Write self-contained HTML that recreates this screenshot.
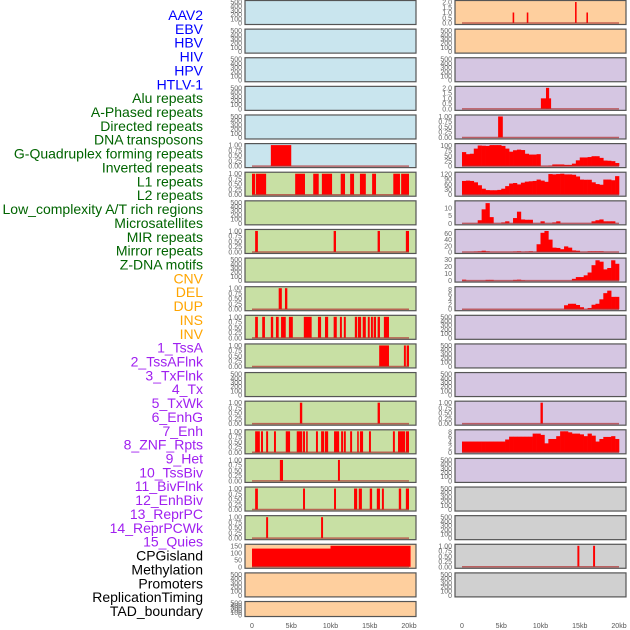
<!DOCTYPE html>
<html><head><meta charset="utf-8">
<style>
html,body{margin:0;padding:0;background:#fff;width:630px;height:630px;overflow:hidden}
svg{display:block}
</style></head>
<body>
<svg id="chart" width="630" height="630" viewBox="0 0 630 630" xmlns="http://www.w3.org/2000/svg" font-family="Liberation Sans, sans-serif"></svg>
<script>
const labels = ["AAV2","EBV","HBV","HIV","HPV","HTLV-1","Alu repeats","A-Phased repeats","Directed repeats","DNA transposons","G-Quadruplex forming repeats","Inverted repeats","L1 repeats","L2 repeats","Low_complexity A/T rich regions","Microsatellites","MIR repeats","Mirror repeats","Z-DNA motifs","CNV","DEL","DUP","INS","INV","1_TssA","2_TssAFlnk","3_TxFlnk","4_Tx","5_TxWk","6_EnhG","7_Enh","8_ZNF_Rpts","9_Het","10_TssBiv","11_BivFlnk","12_EnhBiv","13_ReprPC","14_ReprPCWk","15_Quies","CPGisland","Methylation","Promoters","ReplicationTiming","TAD_boundary"];
const labelGroups = [6,13,5,15,5];
const groupTextColors = ["#0000ff","#006400","#ffa500","#a020f0","#000000"];
const groupFillColors = ["#c9e5ee","#c8e0a4","#fecf9e","#d5c6e2","#d0d0d0"];
const xTicks = [0,5,10,15,20];
const xTickLabels = ["0","5kb","10kb","15kb","20kb"];

const ticksEmpty = [0,100,200,300,400,500];
const ticks01 = [0,0.25,0.5,0.75,1];
const ticks02 = [0,0.5,1,1.5,2];

const htlvBars = [[2.4,5.0,1]];
const aluBars = [[0,0.4,1],[0.5,1.8,1],[5.5,6.75,1],[7.8,8.5,1],[8.9,10.2,1],[11.3,11.85,1],[12.5,13,1],[13.75,14.5,1],[15.3,15.8,1],[18,18.85,1],[19,20,1]];
const directedBars = [[0.4,0.75,1],[10.4,10.7,1],[16,16.3,1],[19.6,20,1]];
const gquadBars = [[3.4,3.8,1],[4.2,4.5,1]];
const invertedBars = [[0.4,0.75,1],[1.3,1.65,1],[2.4,2.7,1],[3.05,3.4,1],[3.7,4.3,1],[4.7,5.2,1],[6.6,7.6,1],[8.4,8.8,1],[9.3,9.7,1],[10.4,10.8,1],[11.2,11.45,1],[11.7,11.95,1],[13.1,13.4,1],[13.5,13.9,1],[14.1,14.5,1],[14.75,15,1],[15.15,15.4,1],[15.5,15.8,1],[16,16.3,1],[16.8,17.45,1]];
const l1Bars = [[16.2,17.45,1],[19.35,19.6,1],[19.7,20,1]];
const lowComplexBars = [[6.1,6.4,1],[16,16.3,1]];
const microBars = [[0.4,1.0,1],[1.15,1.4,1],[1.8,2.05,1],[2.8,3.05,1],[4.3,4.85,1],[5.7,6.4,1],[6.5,6.75,1],[6.9,7.1,1],[8.15,8.4,1],[8.8,9.2,1],[9.3,9.7,1],[10.45,11.1,1],[11.35,11.6,1],[11.7,11.95,1],[12.5,12.75,1],[13.4,13.6,1],[13.75,14.15,1],[14.9,15.15,1],[17.95,18.2,1],[18.6,19.5,1],[19.6,20,1]];
const mirBars = [[3.55,3.95,1],[10.95,11.2,1]];
const mirrorBars = [[0.4,0.75,1],[6.5,6.75,1],[10.45,10.7,1],[13,13.4,1],[13.6,14,1],[15,15.3,1],[15.9,16.3,1],[16.55,16.8,1],[18.7,19,1],[19.6,20,1]];
const zdnaBars = [[1.8,2.05,1],[8.8,9.05,1]];
const cnvBars = [[0,10,130],[10,20.2,150]];
const insBars = [[6.45,6.65,1],[8.25,8.45,1],[14.4,14.6,2],[15.85,16.05,1]];
const tssAFlnkBars = [[10.05,11.35,1],[10.7,11.1,2]];
const txFlnkBars = [[4.6,5.2,1]];
const hetBars = [[10,10.3,1]];
const promoterBars = [[14.7,14.95,1],[16.7,16.95,1]];

const txBins = [68,58,60,85,100,99,98,104,104,103,98,85,70,77,80,78,60,56,56,58,0,0,2,8,8,8,6,6,12,28,42,42,44,48,48,40,27,26,24,15];
const txWkBins = [80,82,80,72,55,35,27,26,26,28,35,50,65,68,60,70,76,78,80,88,82,75,120,118,120,122,118,118,116,106,88,87,87,72,62,58,88,88,84,108];
const enhGBins = [0,0,0,0,2,9,13,4,0,0,0.6,1.3,0,3.4,7.5,2.5,2.3,2.3,0,0,1.3,0,0,0.6,1.3,0,0,0,0,0,0,0,0,1.3,2,2.5,1.3,1.3,1.3,0];
const enhBins = [0,0,0,1,2,4,2,0,0,0,0,0,0,1,2,0,1,2,0,25,62,68,40,14,13,9,18,14,5,4,0,0,2,2,2,2,0,0,0,0];
const znfBins = [1.3,0,0,0,0,0,1,1,0,0,0,0,0,1,1.3,0.5,0,0,0,0,0,0,0,0,0,0,0,0,2.5,5,5,7.5,11.5,22,29,27,16,18,29,24];
const tssBivBins = [0,0,0,0,0,0,0,0,0,0,0,0,0,0,0,0,0,0,0,0,0,0,0,0,0,0,1.6,2.2,2.2,1.7,0.8,0,0.5,1.8,2.2,4,6.5,7.5,5,5];
const reprPCWkBins = [4.2,4.2,4.2,4.2,4.2,4.2,4.2,4.2,4.2,4.2,4.2,5,6.1,6.1,6.1,6.1,6.1,6.1,7.3,7.3,6.8,3.5,5.2,5.2,6.3,8.2,8.2,7.8,7.3,7.3,7,6.3,7.3,6.5,4.2,5.2,6,6,6.3,5.2];

const E = {kind:"empty", ticks:ticksEmpty, tl:["0","100","200","300","400","500"], max:500};
const B = (d)=>({kind:"bars", data:d, ticks:ticks01, tl:["0.00","0.25","0.50","0.75","1.00"], max:1});
const tracks = [
 E,E,E,E,E,B(htlvBars),
 B(aluBars),E,B(directedBars),E,B(gquadBars),B(invertedBars),B(l1Bars),E,B(lowComplexBars),B(microBars),B(mirBars),B(mirrorBars),B(zdnaBars),
 {kind:"bars", data:cnvBars, ticks:[0,50,100,150], tl:["0","50","100","150"], max:150},E,E,
 {kind:"bars", data:insBars, ticks:ticks02, tl:["0.0","0.5","1.0","1.5","2.0"], max:2},E,
 E,{kind:"bars", data:tssAFlnkBars, ticks:ticks02, tl:["0.0","0.5","1.0","1.5","2.0"], max:2},B(txFlnkBars),
 {kind:"hist", data:txBins, ticks:[0,25,50,75,100], tl:["0","25","50","75","100"], max:102},
 {kind:"hist", data:txWkBins, ticks:[0,30,60,90,120], tl:["0","30","60","90","120"], max:122},
 {kind:"hist", data:enhGBins, ticks:[0,5,10], tl:["0","5","10"], max:13.5},
 {kind:"hist", data:enhBins, ticks:[0,20,40,60], tl:["0","20","40","60"], max:68},
 {kind:"hist", data:znfBins, ticks:[0,10,20,30], tl:["0","10","20","30"], max:30},
 {kind:"hist", data:tssBivBins, ticks:[0,2,4,6,8], tl:["0","2","4","6","8"], max:8.5},
 E,E,E,B(hetBars),
 {kind:"hist", data:reprPCWkBins, ticks:[0,2,4,6,8], tl:["0","2","4","6","8"], max:8.2},
 E,E,E,B(promoterBars),E
];

const svg = document.getElementById('chart');
const NS = "http://www.w3.org/2000/svg";
function mk(tag, attrs, parent){const e=document.createElementNS(NS,tag);for(const k in attrs)e.setAttribute(k,attrs[k]);(parent||svg).appendChild(e);return e;}

const groupOf = [];
labelGroups.forEach((n,g)=>{for(let i=0;i<n;i++)groupOf.push(g);});
labels.forEach((t,i)=>{
  const el = mk('text',{x:203,y:15+i*13.86+5,'text-anchor':'end','font-size':'14',fill:groupTextColors[groupOf[i]]});
  el.textContent = t;
  
  
});

const pitch = 28.62;
tracks.forEach((tr,i)=>{
  const col = Math.floor(i/22), row = i%22;
  const x0 = col ? 455 : 245, w = 171;
  const y0 = row*pitch + 0.5, h = row===21 ? 15 : 24;
  const g = mk('g',{});
  
  
  const xs = kb => x0 + 7 + kb*7.85;
  const yb = y0 + h - 1.5, yt = y0 + 1.5;
  const ys = v => yb - Math.min(v,tr.max)/tr.max*(yb-yt);
  mk('rect',{x:x0,y:y0,width:w,height:h,fill:groupFillColors[groupOf[i]]},g);
  if(tr.kind==="bars"){
    tr.data.forEach(d=>{
      const r = mk('rect',{x:xs(d[0]),y:ys(d[2]),width:Math.max(1.5,xs(d[1])-xs(d[0])),height:yb-ys(d[2]),fill:'#ff0000'},g);
      
      
    });
  } else if(tr.kind==="hist"){
    tr.data.forEach((v,k)=>{
      if(v<=0) return;
      const r = mk('rect',{x:xs(k*0.5),y:ys(v),width:xs(0.5)-xs(0)+0.3,height:yb-ys(v),fill:'#ff0000'},g);
      
      
    });
  }
  if(tr.kind!=="empty"){
    mk('line',{x1:xs(0),x2:xs(20),y1:yb,y2:yb,stroke:'#b03030','stroke-opacity':0.7,'stroke-width':1.5},g);
  }
  mk('rect',{x:x0,y:y0,width:w,height:h,fill:'none',stroke:'#555','stroke-width':1.2},g);
  tr.ticks.forEach((t,k)=>{
    const tt = mk('text',{x:x0-3,y:ys(t)+2.5,'text-anchor':'end','font-size':'7',fill:'#666'},g);
    tt.textContent = tr.tl[k];
  });
});

[245,455].forEach((x0,c)=>{
  xTicks.forEach((t,k)=>{
    const el = mk('text',{x:x0+7+t*7.85,y:628,'text-anchor':'middle','font-size':'7',fill:'#555'});
    el.textContent = xTickLabels[k];
    
    
  });
});
</script>
</body></html>
